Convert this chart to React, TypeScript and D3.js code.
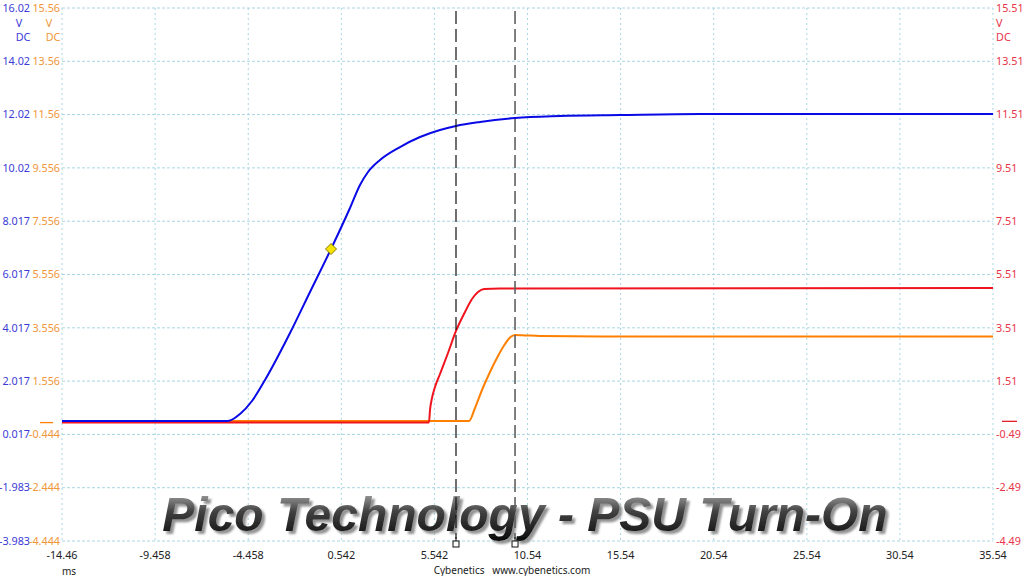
import React from "react";
import * as d3 from "d3";

// ---- axis tick labels ----
const timeTicks = [-14.46, -9.458, -4.458, 0.542, 5.542, 10.54, 15.54, 20.54, 25.54, 30.54, 35.54];
const timeTickLabels = ["-14.46", "-9.458", "-4.458", "0.542", "5.542", "10.54", "15.54", "20.54", "25.54", "30.54", "35.54"];
const blueTicks = [16.02, 14.02, 12.02, 10.02, 8.017, 6.017, 4.017, 2.017, 0.017, -1.983, -3.983];
const blueTickLabels = ["16.02", "14.02", "12.02", "10.02", "8.017", "6.017", "4.017", "2.017", "0.017", "-1.983", "-3.983"];
const orangeTicks = [15.56, 13.56, 11.56, 9.556, 7.556, 5.556, 3.556, 1.556, -0.444, -2.444, -4.444];
const orangeTickLabels = ["15.56", "13.56", "11.56", "9.556", "7.556", "5.556", "3.556", "1.556", "-0.444", "-2.444", "-4.444"];
const redTicks = [15.51, 13.51, 11.51, 9.51, 7.51, 5.51, 3.51, 1.51, -0.49, -2.49, -4.49];
const redTickLabels = ["15.51", "13.51", "11.51", "9.51", "7.51", "5.51", "3.51", "1.51", "-0.49", "-2.49", "-4.49"];

// ---- series (time ms, volts) ----
const blueTime = [-14.46, -5.545, -4.9, -4.256, -3.558, -2.215, -1.141, -0.013, 1.007, 1.544, 1.974, 2.619, 3.693, 4.767, 5.841, 6.7, 7.989, 9.869, 12.286, 15.508, 19.804, 35.54];
const blueVolts = [0.52, 0.52, 0.783, 1.271, 2.059, 3.823, 5.362, 6.975, 8.514, 9.377, 9.865, 10.316, 10.803, 11.179, 11.441, 11.592, 11.742, 11.892, 11.967, 12.004, 12.042, 12.042];

const redTime = [-14.46, 5.25, 5.304, 5.411, 5.572, 5.841, 6.27, 6.7, 7.183, 7.559, 7.882, 8.204, 9.063, 35.54];
const redVolts = [-0.04, -0.04, 0.426, 0.877, 1.289, 1.777, 2.565, 3.391, 4.104, 4.592, 4.855, 4.967, 4.986, 5.005];

const orangeTime = [-14.46, 7.398, 7.721, 8.097, 8.526, 8.956, 9.332, 9.6, 9.869, 10.245, 11.211, 14.434, 35.54];
const orangeVolts = [0.059, 0.059, 0.547, 1.223, 1.898, 2.499, 2.949, 3.19, 3.285, 3.28, 3.25, 3.235, 3.231];

const cursorTimes = [6.7, 9.87];
const markerTime = [-0.013];
const markerVolts = [6.975];

const titleText = "Pico Technology - PSU Turn-On";
const footerText = "Cybenetics   www.cybenetics.com";

export default function App() {
  const W = 1024, H = 576;
  const L = 62, R = 993, T = 8, B = 541;
  const x = d3.scaleLinear().domain([-14.46, 35.54]).range([L, R]);
  const yBlue = d3.scaleLinear().domain([-3.983, 16.02]).range([B, T]);
  const yOrange = d3.scaleLinear().domain([-4.444, 15.56]).range([B, T]);
  const yRed = d3.scaleLinear().domain([-4.49, 15.51]).range([B, T]);

  const mk = (ts: number[], vs: number[], ys: d3.ScaleLinear<number, number>) =>
    d3.line<number>().x((_, i) => x(ts[i])).y((_, i) => ys(vs[i])).curve(d3.curveMonotoneX)(vs) || "";

  const gridColor = "#a9d6e2";
  const font = "'Noto Sans', 'DejaVu Sans', sans-serif";
  const blueTxt = "#3b3bd6";
  const orangeTxt = "#f0963a";
  const redTxt = "#e83348";
  const fs = 10.8;

  return (
    <svg width={W} height={H} style={{ position: "absolute", left: 0, top: 0, background: "#fff" }} fontFamily={font}>
      <defs>
        <linearGradient id="tg" x1="0" y1="0" x2="0" y2="1">
          <stop offset="0" stopColor="#b8b8b8" />
          <stop offset="0.45" stopColor="#404040" />
          <stop offset="1" stopColor="#0a0a0a" />
        </linearGradient>
        <filter id="ts" x="-5%" y="-30%" width="110%" height="160%">
          <feDropShadow dx="3" dy="3" stdDeviation="1.2" floodColor="#777" floodOpacity="0.8" />
        </filter>
      </defs>
      <rect x={0} y={0} width={W} height={H} fill="#fff" />
      {/* grid */}
      {blueTicks.map((v, i) => (
        <line key={"h" + i} x1={L} x2={R} y1={yBlue(v)} y2={yBlue(v)} stroke={gridColor} strokeWidth={1} strokeDasharray="3,2" />
      ))}
      {timeTicks.map((t, i) => (
        <line key={"v" + i} x1={x(t)} x2={x(t)} y1={T} y2={B} stroke={gridColor} strokeWidth={1} strokeDasharray="2,3" />
      ))}

      {/* title */}
      <text x={525} y={531} textAnchor="middle" fontFamily="'Liberation Sans', Arial, sans-serif" fontWeight="bold" fontStyle="italic" fontSize={48} fill="url(#tg)" filter="url(#ts)">{titleText}</text>

      {/* traces */}
      <path d={mk(orangeTime, orangeVolts, yOrange)} fill="none" stroke="#ff8000" strokeWidth={2} />
      <path d={mk(redTime, redVolts, yRed)} fill="none" stroke="#f0141e" strokeWidth={2} />
      <path d={mk(blueTime, blueVolts, yBlue)} fill="none" stroke="#0a0ae6" strokeWidth={2} />

      {/* cursors */}
      {cursorTimes.map((t, i) => (
        <g key={"c" + i}>
          <line x1={x(t)} x2={x(t)} y1={T + 3} y2={B - 2} stroke={i === 0 ? "#111" : "#606060"} strokeWidth={i === 0 ? 1.2 : 1.6} strokeDasharray="13,5" />
          <line x1={x(t)} x2={x(t)} y1={B - 4} y2={B} stroke="#111" strokeWidth={1} />
          <rect x={x(t) - 3} y={B} width={6} height={6} fill="#fff" stroke="#111" strokeWidth={1} />
        </g>
      ))}

      {/* marker */}
      {markerTime.map((t, i) => {
        const cx = x(t), cy = yBlue(markerVolts[i]);
        return <path key={"m" + i} d={`M${cx},${cy - 5.5}L${cx + 5.5},${cy}L${cx},${cy + 5.5}L${cx - 5.5},${cy}Z`} fill="#f5e400" stroke="#8a7a00" strokeWidth={1} />;
      })}

      {/* left axis labels */}
      {blueTicks.map((v, i) => (
        <text key={"bl" + i} x={30} y={yBlue(v)} dy="0.35em" textAnchor="end" fontSize={fs} fill={blueTxt}>{blueTickLabels[i]}</text>
      ))}
      {orangeTicks.map((v, i) => (
        <text key={"ol" + i} x={60} y={yOrange(v)} dy="0.35em" textAnchor="end" fontSize={fs} fill={orangeTxt}>{orangeTickLabels[i]}</text>
      ))}
      {redTicks.map((v, i) => (
        <text key={"rl" + i} x={996} y={yRed(v)} dy="0.35em" textAnchor="start" fontSize={fs} fill={redTxt}>{redTickLabels[i]}</text>
      ))}
      <text x={19} y={23} dy="0.35em" textAnchor="middle" fontSize={fs} fill={blueTxt}>V</text>
      <text x={23} y={37} dy="0.35em" textAnchor="middle" fontSize={fs} fill={blueTxt}>DC</text>
      <text x={49} y={23} dy="0.35em" textAnchor="middle" fontSize={fs} fill={orangeTxt}>V</text>
      <text x={53} y={37} dy="0.35em" textAnchor="middle" fontSize={fs} fill={orangeTxt}>DC</text>
      <text x={996} y={23} dy="0.35em" textAnchor="start" fontSize={fs} fill={redTxt}>V</text>
      <text x={996} y={37} dy="0.35em" textAnchor="start" fontSize={fs} fill={redTxt}>DC</text>

      {/* zero markers */}
      <line x1={40} x2={53} y1={yOrange(0)} y2={yOrange(0)} stroke="#ff8000" strokeWidth={1.3} />
      <line x1={1002} x2={1017} y1={yRed(0)} y2={yRed(0)} stroke="#e0202a" strokeWidth={1.3} />

      {/* x axis labels */}
      {timeTicks.map((t, i) => (
        <text key={"xl" + i} x={x(t)} y={555} dy="0.35em" textAnchor="middle" fontSize={fs} fill="#222">{timeTickLabels[i]}</text>
      ))}
      <text x={69} y={571} dy="0.35em" textAnchor="middle" fontSize={10} fill="#222">ms</text>
      <text x={512} y={570} dy="0.35em" textAnchor="middle" fontSize={10} fill="#222" style={{ whiteSpace: "pre" }}>{footerText}</text>
    </svg>
  );
}
